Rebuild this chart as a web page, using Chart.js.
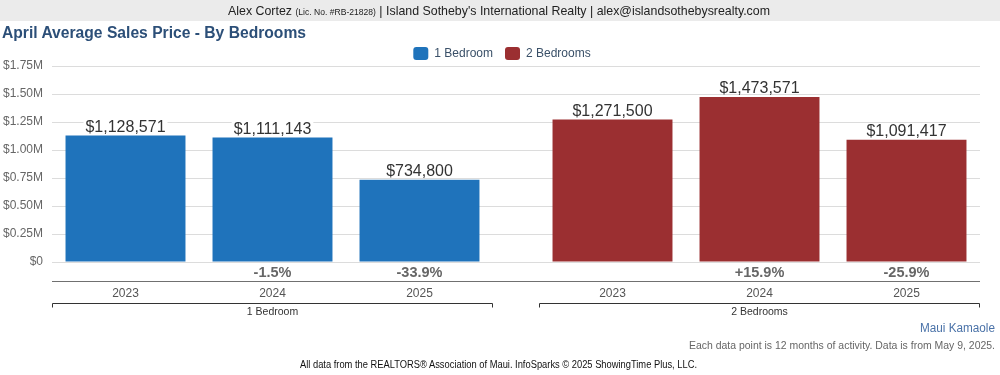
<!DOCTYPE html>
<html>
<head>
<meta charset="utf-8">
<script src="https://cdn.jsdelivr.net/npm/chart.js@4.4.1/dist/chart.umd.min.js"></script>
<style>
  body { margin: 0; width: 1000px; height: 375px; position: relative; overflow: hidden; background: #fff;
         font-family: "Liberation Sans", Arial, Helvetica, sans-serif; }
  .band { position: absolute; left: 0; top: 0; width: 1000px; height: 21px; background: #ebebeb; }
  .txt { position: absolute; white-space: nowrap; }
  #header { left: 228px; top: 3px; font-size: 13px; color: #222; transform-origin: left top; }
  #header small { font-size: 9px; }
  #title { left: 2px; top: 24px; font-size: 16px; font-weight: bold; color: #2c4f78; transform-origin: left top; }
  #maui { left: 920px; top: 321px; font-size: 12px; color: #4a72a8; transform-origin: left top; }
  #note { left: 689px; top: 339px; font-size: 11px; color: #666; transform-origin: left top; }
  #source { left: 300px; top: 359px; font-size: 10px; color: #111; transform-origin: left top; }
  canvas { position: absolute; left: 0; top: 0; }
</style>
</head>
<body>
<div class="band"></div>
<canvas id="chart" width="1000" height="375"></canvas>
<div class="txt" id="header" data-w="542">Alex Cortez <small>(Lic. No. #RB-21828)</small> | Island Sotheby's International Realty | alex@islandsothebysrealty.com</div>
<div class="txt" id="title" data-w="304">April Average Sales Price - By Bedrooms</div>
<div class="txt" id="maui" data-w="75">Maui Kamaole</div>
<div class="txt" id="note" data-w="306">Each data point is 12 months of activity. Data is from May 9, 2025.</div>
<div class="txt" id="source" data-w="397">All data from the REALTORS® Association of Maui. InfoSparks © 2025 ShowingTime Plus, LLC.</div>
<script>
const years = ["2023", "2024", "2025"];
const groups = ["1 Bedroom", "2 Bedrooms"];
const oneBedroom = [1128571, 1111143, 734800];
const twoBedrooms = [1271500, 1473571, 1091417];
const oneBedroomChange = ["", "-1.5%", "-33.9%"];
const twoBedroomsChange = ["", "+15.9%", "-25.9%"];
const yTickLabels = ["$0", "$0.25M", "$0.50M", "$0.75M", "$1.00M", "$1.25M", "$1.50M", "$1.75M"];

const FONT = '"Liberation Sans", Arial, Helvetica, sans-serif';
const BLUE = "#1f73bb";
const RED = "#9b2f31";
const GROUP_GAP = 0.313; // space between the two groups, in bar slots
const LEGEND_SHIFT = 12; // legend sits a little right of the page centre

// squeeze the html texts to the widths they have in the picture
document.querySelectorAll(".txt").forEach((el) => {
    const w = el.getBoundingClientRect().width;
    el.style.transform = "scaleX(" + (parseFloat(el.dataset.w) / w) + ")";
});

const slot = (g, i) => g * (years.length + GROUP_GAP) + i;
const xPositions = [];
groups.forEach((g, gi) => years.forEach((y, i) => xPositions.push(slot(gi, i))));

// "$1,128,571" above each bar, on a white patch
const barValueLabels = {
    id: "barValueLabels",
    afterDatasetsDraw(chart) {
        const ctx = chart.ctx;
        ctx.save();
        ctx.font = "16px " + FONT;
        ctx.textAlign = "center";
        ctx.textBaseline = "alphabetic";
        chart.data.datasets.forEach((ds, di) => {
            chart.getDatasetMeta(di).data.forEach((bar, i) => {
                const text = "$" + ds.data[i].y.toLocaleString("en-US");
                const w = ctx.measureText(text).width;
                ctx.fillStyle = "#fff";
                ctx.fillRect(bar.x - w / 2 - 2, bar.y - 16, w + 4, 13);
                ctx.fillStyle = "#333";
                ctx.fillText(text, bar.x, bar.y - 4);
            });
        });
        ctx.restore();
    }
};

// change row, separator line, brackets and group names under the bars
const groupAxis = {
    id: "groupAxis",
    afterLayout(chart) {
        chart.legend.left += LEGEND_SHIFT;
        chart.legend.right += LEGEND_SHIFT;
    },
    afterDraw(chart) {
        const { ctx, chartArea } = chart;
        const x = chart.scales.x;
        const base = chartArea.bottom;
        const changes = [oneBedroomChange, twoBedroomsChange];
        ctx.save();
        ctx.textAlign = "center";
        ctx.textBaseline = "middle";
        ctx.font = "bold 14.5px " + FONT;
        ctx.fillStyle = "#666";
        changes.forEach((list, g) => list.forEach((t, i) => {
            if (t) ctx.fillText(t, x.getPixelForValue(slot(g, i)), base + 11);
        }));

        ctx.lineWidth = 1;
        ctx.strokeStyle = "#707070";
        const lineY = Math.round(base + 19) + 0.5;
        ctx.beginPath();
        ctx.moveTo(chartArea.left, lineY);
        ctx.lineTo(chartArea.right, lineY);
        ctx.stroke();

        ctx.strokeStyle = "#333";
        ctx.font = "10.5px " + FONT;
        ctx.fillStyle = "#333";
        const by = Math.round(base + 41) + 0.5;
        groups.forEach((name, g) => {
            const l = Math.round(x.getPixelForValue(slot(g, 0) - 0.5)) + 0.5;
            const r = Math.round(x.getPixelForValue(slot(g, years.length - 1) + 0.5)) - 0.5;
            ctx.beginPath();
            ctx.moveTo(l, by + 4);
            ctx.lineTo(l, by);
            ctx.lineTo(r, by);
            ctx.lineTo(r, by + 4);
            ctx.stroke();
            ctx.fillText(name, (l + r) / 2, base + 50);
        });
        ctx.restore();
    }
};

new Chart(document.getElementById("chart"), {
    type: "bar",
    data: {
        datasets: [
            {
                label: groups[0],
                data: oneBedroom.map((v, i) => ({ x: slot(0, i), y: v })),
                backgroundColor: BLUE
            },
            {
                label: groups[1],
                data: twoBedrooms.map((v, i) => ({ x: slot(1, i), y: v })),
                backgroundColor: RED
            }
        ]
    },
    options: {
        responsive: false,
        animation: false,
        devicePixelRatio: 1,
        grouped: false,
        barPercentage: 0.816,
        categoryPercentage: 1,
        layout: { padding: { top: 35, left: 0, right: 20, bottom: 0 } },
        plugins: {
            legend: {
                position: "top",
                maxHeight: 31,
                labels: {
                    boxWidth: 15,
                    boxHeight: 13,
                    useBorderRadius: true,
                    borderRadius: 3,
                    padding: 12,
                    color: "#3a5068",
                    font: { size: 12, family: FONT }
                }
            },
            tooltip: { enabled: false }
        },
        scales: {
            x: {
                type: "linear",
                min: -0.5,
                max: slot(1, years.length - 1) + 0.5,
                offset: false,
                grid: { display: false, drawTicks: false },
                border: { display: false },
                afterBuildTicks: (s) => { s.ticks = xPositions.map((v) => ({ value: v })); },
                ticks: {
                    callback: (v, i) => years[i % years.length],
                    color: "#555",
                    font: { size: 12, family: FONT },
                    padding: 24,
                    autoSkip: false,
                    maxRotation: 0
                },
                afterFit: (s) => { s.height = 113; }
            },
            y: {
                min: 0,
                max: 1750000,
                grid: { color: "#dcdcdc", drawTicks: false },
                border: { display: false },
                ticks: {
                    stepSize: 250000,
                    callback: (v, i) => yTickLabels[i],
                    color: "#666",
                    font: { size: 12, family: FONT },
                    padding: 9
                },
                afterFit: (s) => { s.width = 52; }
            }
        }
    },
    plugins: [barValueLabels, groupAxis]
});
</script>
</body>
</html>
